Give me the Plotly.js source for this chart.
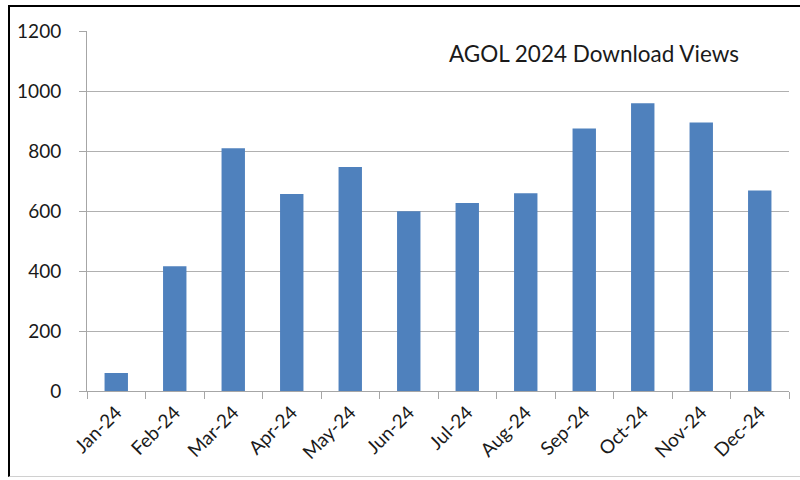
<!DOCTYPE html>
<html>
<head>
<meta charset="utf-8">
<script src="https://cdn.plot.ly/plotly-3.0.1.min.js"></script>
<style>
  html, body { margin: 0; padding: 0; background: #fff; }
  #wrap { position: relative; width: 800px; height: 480px; }
  #chart { width: 800px; height: 480px; }
  #frame { position: absolute; left: 8px; top: 5px; width: 792px; height: 472px;
           border-left: 2px solid #000; border-top: 2px solid #000; border-bottom: 1px solid #d0d0d0;
           pointer-events: none; box-sizing: border-box; }
</style>
</head>
<body>
<div id="wrap">
  <div id="chart"></div>
  <div id="frame"></div>
</div>
<script>
const months = ["Jan-24","Feb-24","Mar-24","Apr-24","May-24","Jun-24","Jul-24","Aug-24","Sep-24","Oct-24","Nov-24","Dec-24"];
const views = [60, 416, 809, 657, 747, 599, 627, 659, 875, 959, 895, 668];
const chartTitle = "AGOL 2024 Download Views";

const trace = {
  type: "bar",
  x: months,
  y: views,
  width: 0.4,
  marker: { color: "#4F81BD", line: { width: 0 } },
  hoverinfo: "x+y"
};

const layout = {
  width: 800, height: 480,
  margin: { l: 87, r: 11, t: 31, b: 89 },
  paper_bgcolor: "rgba(0,0,0,0)",
  plot_bgcolor: "#fff",
  showlegend: false,
  font: { family: "Lato, 'Open Sans', sans-serif", color: "#1a1a1a", size: 19 },
  title: {
    text: chartTitle,
    font: { family: "Lato, 'Open Sans', sans-serif", size: 22.5, color: "#1a1a1a" },
    x: 0.7425, xref: "container", xanchor: "center",
    y: 0.8875, yref: "container", yanchor: "middle"
  },
  xaxis: {
    type: "category",
    range: [-0.5, 11.5],
    tickson: "boundaries",
    ticks: "outside", ticklen: 7, tickcolor: "#a6a6a6", tickwidth: 1,
    showline: true, linecolor: "#a6a6a6", linewidth: 1,
    showgrid: false,
    tickangle: -45,
    tickfont: { size: 19 },
    ticklabelstandoff: 2,
    fixedrange: true
  },
  yaxis: {
    range: [0, 1200],
    dtick: 200,
    ticks: "outside", ticklen: 7, tickcolor: "#a6a6a6", tickwidth: 1,
    showline: true, linecolor: "#a6a6a6", linewidth: 1,
    showgrid: true, gridcolor: "#b0b0b0", gridwidth: 1,
    zeroline: false,
    tickfont: { size: 19 },
    ticklabelstandoff: 14,
    fixedrange: true
  },
  bargap: 0.6
};

Plotly.newPlot("chart", [trace], layout, { displayModeBar: false, staticPlot: true });
</script>
</body>
</html>
